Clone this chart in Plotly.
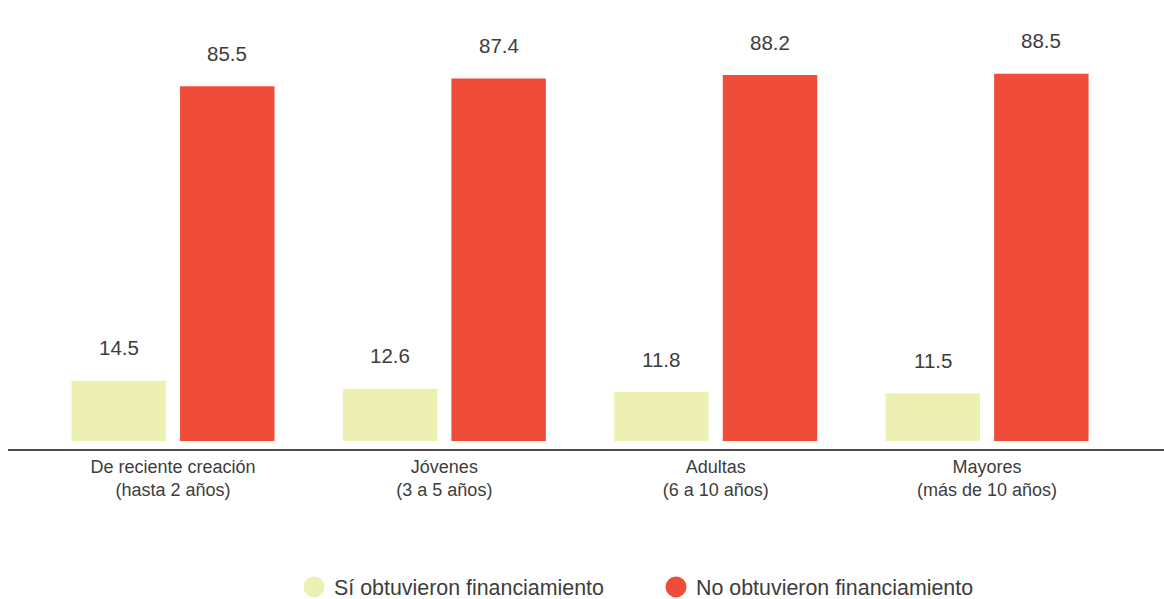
import plotly.graph_objects as go

# Company age groups and share (%) that did / did not obtain financing
categories = [
    "De reciente creación<br>(hasta 2 años)",
    "Jóvenes<br>(3 a 5 años)",
    "Adultas<br>(6 a 10 años)",
    "Mayores<br>(más de 10 años)",
]
si_obtuvieron = [14.5, 12.6, 11.8, 11.5]
no_obtuvieron = [85.5, 87.4, 88.2, 88.5]
series_names = ["Sí obtuvieron financiamiento", "No obtuvieron financiamiento"]

GREEN = "#ECF1B3"
RED = "#EF4C3A"
TEXT = "#3d3d3d"
FONT = "Liberation Sans, Arial, sans-serif"

BARGAP = 0.2
BARGROUPGAP = 0.13

fig = go.Figure()
for name, vals, color in [(series_names[0], si_obtuvieron, GREEN),
                          (series_names[1], no_obtuvieron, RED)]:
    fig.add_trace(go.Bar(
        x=categories, y=vals, name=name, marker=dict(color=color, line=dict(width=0)),
        showlegend=False, hoverinfo="x+y",
    ))
    # circular legend swatch
    fig.add_trace(go.Scatter(
        x=[None], y=[None], mode="markers", name=name,
        marker=dict(symbol="circle", size=16, color=color, line=dict(color=color, width=5)),
        showlegend=True,
    ))

# value labels above each bar
offset = (1 - BARGAP) / 4
annotations = []
for k, vals in enumerate([si_obtuvieron, no_obtuvieron]):
    sign = -1 if k == 0 else 1
    for i, v in enumerate(vals):
        annotations.append(dict(
            x=i + sign * offset, y=v, xref="x", yref="y", text=f"{v:.1f}",
            showarrow=False, yanchor="middle", yshift=33,
            font=dict(size=20.5, color=TEXT, family=FONT),
        ))

fig.update_layout(
    width=1164, height=599,
    margin=dict(l=8, r=0, t=0, b=150, autoexpand=False),
    paper_bgcolor="white", plot_bgcolor="white",
    barmode="group", bargap=BARGAP, bargroupgap=BARGROUPGAP,
    font=dict(family=FONT, color=TEXT, size=17),
    annotations=annotations,
    legend=dict(
        orientation="h", xref="container", yref="container",
        x=0.2526, xanchor="left", y=0.02, yanchor="middle",
        font=dict(size=21.4, color=TEXT, family=FONT), itemsizing="trace",
        traceorder="normal", entrywidth=317,
    ),
    xaxis=dict(
        type="category", range=[-0.608, 3.652], showline=True, linecolor="#4a4a4a",
        linewidth=2, ticks="", showgrid=False, zeroline=False, automargin=False,
        tickfont=dict(size=18, color=TEXT, family=FONT),
    ),
    yaxis=dict(range=[-1.93, 106.3], visible=False, showgrid=False, zeroline=False),
)

fig.write_html("out.html")
